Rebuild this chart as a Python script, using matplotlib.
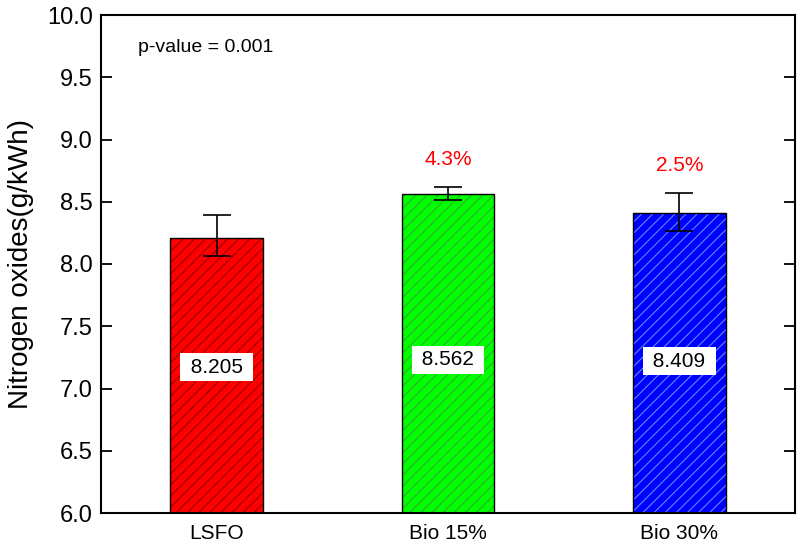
import matplotlib
matplotlib.use("Agg")
import matplotlib.pyplot as plt
import numpy as np

plt.rcParams['font.family'] = ['Liberation Sans', 'DejaVu Sans']

categories = ["LSFO", "Bio 15%", "Bio 30%"]
values = [8.205, 8.562, 8.409]
err_upper = [8.395, 8.622, 8.570]
err_lower = [8.066, 8.514, 8.268]
pct_labels = ["", "4.3%", "2.5%"]
label_y = [7.17, 7.23, 7.22]
colors = ["#ff0000", "#00ff00", "#0000ff"]
hatch_colors = ["#990000", "#33aa33", "#5a8cff"]

fig = plt.figure(figsize=(8, 5.46), dpi=100)
ax = fig.add_axes([101/800, 1-513/546, (795-101)/800, (513-15)/546])

x = np.arange(len(categories))
yerr = np.array([[v - lo for v, lo in zip(values, err_lower)],
                 [hi - v for v, hi in zip(values, err_upper)]])

for i in range(len(categories)):
    plt.rcParams['hatch.color'] = hatch_colors[i]
    plt.rcParams['hatch.linewidth'] = 0.8
    ax.bar(x[i], values[i], width=0.4, color=colors[i], edgecolor=hatch_colors[i],
           hatch='///', linewidth=0, zorder=2)
    ax.bar(x[i], values[i], width=0.4, color='none', edgecolor='black',
           linewidth=1.0, zorder=3)

ax.errorbar(x, values, yerr=yerr, fmt='none', ecolor='black', elinewidth=1.2,
            capsize=10, capthick=1.2, zorder=4)

for i in range(len(categories)):
    ax.text(x[i], label_y[i], f" {values[i]:.3f} ", ha='center', va='center', fontsize=15,
            zorder=5, bbox=dict(boxstyle='square,pad=0.22', facecolor='white', edgecolor='none'))
    if pct_labels[i]:
        ypos = err_upper[i] + 0.22
        ax.text(x[i], ypos, pct_labels[i], ha='center', va='center', fontsize=15,
                color='#ff0000', zorder=5)

ax.text(0.053, 0.934, "p-value = 0.001", transform=ax.transAxes, ha='left', va='center',
        fontsize=14)

ax.set_xlim(-0.5, 2.5)
ax.set_ylim(6.0, 10.0)
ticks = np.arange(6.0, 10.01, 0.5)
ax.set_yticks(ticks)
ax.set_yticklabels([f"{v:.1f}" for v in ticks], fontsize=17)
ax.set_xticks(x)
ax.set_xticklabels(categories, fontsize=15)
ax.tick_params(axis='x', length=0, pad=8)
ax.tick_params(axis='y', direction='in', length=8, width=1.3, right=True, left=True, pad=6)
for s in ax.spines.values():
    s.set_linewidth(1.5)
ax.set_ylabel("Nitrogen oxides(g/kWh)", fontsize=20)
ax.yaxis.set_label_coords(-0.096, 0.5)

fig.savefig("out.png", dpi=100)
